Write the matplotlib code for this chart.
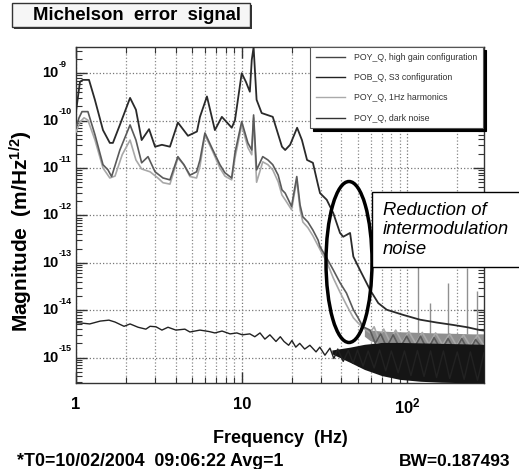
import numpy as np
import matplotlib
matplotlib.use("Agg")
import matplotlib.pyplot as plt
import matplotlib.transforms as mtransforms
from matplotlib.lines import Line2D
from matplotlib.patches import Ellipse, Rectangle
from matplotlib.ticker import FixedLocator, LogLocator, NullFormatter

plt.rcParams['font.family'] = ['Liberation Sans', 'DejaVu Sans']
plt.rcParams['mathtext.fontset'] = 'custom'
plt.rcParams['mathtext.rm'] = 'Liberation Sans:bold'
plt.rcParams['mathtext.bf'] = 'Liberation Sans:bold'
plt.rcParams['mathtext.it'] = 'Liberation Sans:bold'

# ---------------- data (log10 of magnitude in m/Hz^1/2) ----------------
# POB_Q S3 configuration (top dark curve)
freq_s3 = [1.00, 1.057, 1.10, 1.198, 1.30, 1.455, 1.60, 1.67, 1.84, 2.12, 2.30, 2.49,
           2.76, 3.00, 3.30, 3.69, 4.12, 4.74, 5.37, 5.60, 6.17, 6.89, 7.59, 8.71,
           9.11, 10.0, 10.6, 11.2, 11.5, 11.8, 12.3, 13.2, 15.4, 17.5, 18.3, 19.6,
           21.6, 23.1, 24.8, 26.9, 28.9, 29.7, 32.6, 35.7, 39.2, 41.0, 45.1, 47.2,
           51.7, 59.5, 66.7, 75.0, 94.5, 119, 150, 188, 230, 274, 290]
log_s3 = [-9.81, -9.18, -9.14, -9.14, -9.56, -10.20, -10.47, -10.47, -10.09, -9.52,
          -9.77, -10.41, -10.18, -10.55, -10.51, -10.55, -10.04, -10.32, -10.23, -9.92,
          -9.49, -10.20, -9.92, -10.15, -9.99, -9.00, -9.18, -9.39, -8.72, -8.45,
          -9.56, -9.84, -9.92, -10.55, -10.62, -10.51, -10.15, -10.41, -10.83, -10.89,
          -11.36, -11.53, -11.67, -11.95, -12.37, -12.45, -12.37, -12.87, -13.15, -13.57,
          -13.85, -13.99, -14.10, -14.20, -14.26, -14.31, -14.36, -14.42, -14.43]

# POY_Q high gain configuration
freq_hg = [1.00, 1.043, 1.087, 1.18, 1.302, 1.455, 1.56, 1.64, 1.84, 2.12, 2.30, 2.49,
           2.72, 3.00, 3.35, 3.69, 4.12, 4.48, 4.87, 5.34, 5.60, 6.00, 6.70, 7.39,
           7.92, 8.70, 9.11, 10.0, 10.9, 11.5, 11.8, 12.3, 13.4, 14.4, 15.4, 16.6,
           17.5, 18.3, 20.0, 21.5, 22.5, 23.4, 25.1, 26.9, 28.9, 29.7, 32.6, 35.7,
           39.2, 42.9, 47.2, 50.4, 53.9, 59.5, 64, 69, 75, 82, 90, 99, 109, 120,
           132, 145, 160, 176, 194, 213, 235, 258, 290]
log_hg = [-10.15, -9.94, -9.81, -9.81, -10.30, -10.93, -11.04, -11.18, -10.62, -10.09,
          -10.41, -10.89, -10.76, -11.08, -11.21, -11.25, -10.76, -10.93, -11.15, -11.08,
          -10.83, -10.26, -10.62, -10.93, -11.10, -11.21, -10.68, -10.02, -10.47, -10.62,
          -9.88, -11.04, -10.76, -10.83, -10.93, -11.15, -11.46, -11.53, -11.81, -11.18,
          -11.78, -12.03, -12.14, -12.31, -12.52, -12.66, -12.90, -13.15, -13.42, -13.64,
          -13.99, -14.16, -14.35, -14.42, -14.70, -14.50, -14.78, -14.52, -14.80, -14.55,
          -14.82, -14.55, -14.85, -14.58, -14.85, -14.60, -14.86, -14.60, -14.88, -14.62,
          -14.85]

# POY_Q 1Hz harmonics (light grey)
freq_h1 = [1.00, 1.057, 1.118, 1.18, 1.302, 1.455, 1.60, 1.72, 1.90, 2.12, 2.30, 2.49,
           2.80, 3.12, 3.35, 3.69, 4.12, 4.48, 4.87, 5.34, 5.60, 6.00, 6.70, 7.39,
           7.92, 8.70, 9.11, 10.0, 10.9, 11.5, 11.8, 12.3, 13.4, 14.4, 15.4, 16.6,
           17.5, 18.3, 20.0, 21.5, 22.5, 23.4, 25.1, 26.9, 28.9, 29.7, 32.6, 35.7,
           39.2, 42.9, 47.2, 50.4, 53.9, 59.5, 63, 67, 72, 78, 85, 93, 102, 112,
           123, 135, 148, 163, 180, 198, 218, 240, 265, 290]
log_h1 = [-10.24, -10.03, -9.94, -9.99, -10.41, -11.00, -11.21, -11.17, -10.72, -10.41,
          -10.83, -11.02, -11.08, -11.21, -11.31, -11.34, -10.79, -10.93, -11.18, -11.21,
          -10.96, -10.30, -10.66, -11.00, -11.17, -11.25, -10.79, -10.09, -10.57, -10.72,
          -9.94, -11.30, -10.87, -10.93, -11.04, -11.29, -11.57, -11.67, -11.88, -11.25,
          -11.88, -12.14, -12.26, -12.43, -12.64, -12.72, -12.98, -13.32, -13.62, -13.89,
          -14.16, -14.27, -14.37, -14.48, -14.35, -14.60, -14.40, -14.65, -14.42, -14.68,
          -14.45, -14.70, -14.47, -14.72, -14.48, -14.73, -14.50, -14.75, -14.52, -14.76,
          -14.53, -14.75]

# POY_Q dark noise
freq_dn = [1.00, 1.21, 1.40, 1.58, 1.72, 1.95, 2.12, 2.37, 2.64, 2.80, 3.04, 3.30,
           3.59, 4.01, 4.54, 4.87, 5.60, 6.35, 6.89, 7.61, 8.51, 9.35, 10.1, 11.2,
           12.0, 12.9, 13.8, 14.8, 16.1, 17.1, 18.0, 19.2, 20.1, 21.2, 22.4, 24.0,
           25.8, 28.1, 29.6, 31.8, 34.1, 36, 38, 41, 44, 47, 50, 54, 58, 63, 68, 74,
           80, 88, 96, 105, 115, 126, 138, 150, 165, 180, 200, 220, 240, 265, 290]
log_dn = [-14.26, -14.29, -14.23, -14.21, -14.25, -14.34, -14.29, -14.36, -14.40, -14.34,
          -14.35, -14.42, -14.36, -14.42, -14.40, -14.46, -14.42, -14.45, -14.48, -14.44,
          -14.50, -14.48, -14.52, -14.50, -14.56, -14.48, -14.61, -14.52, -14.66, -14.56,
          -14.66, -14.74, -14.64, -14.78, -14.70, -14.82, -14.74, -14.88, -14.78, -14.95,
          -14.80, -15.02, -14.82, -15.08, -14.85, -15.12, -14.84, -15.18, -14.86, -15.22,
          -14.84, -15.28, -14.86, -15.32, -14.86, -15.38, -14.85, -15.40, -14.86, -15.42,
          -14.86, -15.44, -14.88, -15.46, -14.88, -15.48, -14.90]

# dense-noise envelopes at high frequency
band_dn_freq = [35, 45, 55, 70, 90, 120, 160, 220, 290]
band_dn_hi = [-14.84, -14.78, -14.72, -14.68, -14.68, -14.69, -14.70, -14.71, -14.72]
band_dn_lo = [-14.92, -15.10, -15.25, -15.38, -15.46, -15.50, -15.52, -15.53, -15.53]
band_bc_freq = [55, 60, 70, 80, 100, 120, 150, 200, 250, 290]
band_bc_hi = [-14.38, -14.42, -14.44, -14.45, -14.46, -14.47, -14.48, -14.49, -14.50, -14.50]
band_bc_lo = [-14.55, -14.65, -14.70, -14.72, -14.74, -14.75, -14.76, -14.78, -14.80, -14.80]

# harmonic lines sticking out of the noise
spike_freq = [116, 137, 176, 229, 262]
spike_top = [-13.09, -13.84, -13.42, -13.11, -13.60]
spike_base = [-14.50, -14.50, -14.50, -14.50, -14.50]

legend_labels = ["POY_Q, high gain configuration", "POB_Q, S3 configuration",
                 "POY_Q, 1Hz harmonics", "POY_Q, dark noise"]

xtick_vals = [1, 10, 100]
xtick_labels = ["1", "10", r"$\mathbf{10^{2}}$"]
ytick_exps = [-15, -14, -13, -12, -11, -10, -9]

# ---------------- figure ----------------
W, H = 519, 469
fig = plt.figure(figsize=(W / 100, H / 100), dpi=100)
fig.patch.set_facecolor('white')

L, R, T, B = 76, 484, 46.7, 382.7
ax = fig.add_axes([L / W, 1 - B / H, (R - L) / W, (B - T) / H])
ax.set_xscale('log')
ax.set_yscale('log')
ax.set_xlim(1, 290)
ax.set_ylim(10 ** -15.53, 10 ** -8.44)

c_s3, c_hg, c_h1, c_dn = '#2a2a2a', '#5a5a5a', '#a8a8a8', '#222222'

P = lambda v: 10 ** np.array(v)

ax.fill_between(band_bc_freq, P(band_bc_lo), P(band_bc_hi), color='#8e8e8e', lw=0, zorder=2)
ax.plot(freq_h1, P(log_h1), color=c_h1, lw=1.2, zorder=3)
ax.plot(freq_hg, P(log_hg), color=c_hg, lw=1.2, zorder=4)
ax.vlines(spike_freq, P(spike_base), P(spike_top), color='#909090', lw=1.0, zorder=3)
ax.fill_between(band_dn_freq, P(band_dn_lo), P(band_dn_hi), color='#151515', lw=0, zorder=5)
ax.plot(freq_dn, P(log_dn), color=c_dn, lw=1.0, zorder=5)
ax.plot(freq_s3, P(log_s3), color=c_s3, lw=1.3, zorder=6)

# ticks
ax.xaxis.set_major_locator(FixedLocator(xtick_vals))
ax.set_xticklabels(xtick_labels)
ax.xaxis.set_minor_locator(LogLocator(base=10, subs=np.arange(2, 10)))
ax.xaxis.set_minor_formatter(NullFormatter())
ax.yaxis.set_major_locator(FixedLocator([10.0 ** e for e in ytick_exps]))
ax.set_yticklabels([''] * len(ytick_exps))
ax.yaxis.set_minor_locator(LogLocator(base=10, subs=np.arange(2, 10), numticks=20))
ax.yaxis.set_minor_formatter(NullFormatter())

ax.tick_params(axis='both', which='both', direction='in', top=True, right=True, color='#333')
ax.tick_params(axis='both', which='major', length=8, width=1)
ax.tick_params(axis='both', which='minor', length=4, width=0.8)
ax.tick_params(axis='x', which='major', labelsize=12, pad=10)
for lab in ax.get_xticklabels():
    lab.set_fontweight('bold')

# y tick labels: "10" with a small raised exponent
ytr = mtransforms.blended_transform_factory(fig.transFigure, ax.transData)
sup_tr = ytr + mtransforms.ScaledTranslation(0, 9 / 100, fig.dpi_scale_trans)
for e in ytick_exps:
    ax.text(58.5 / W, 10.0 ** e, '10', transform=ytr, fontsize=10.5, fontweight='bold',
            ha='right', va='center', clip_on=False)
    ax.text(58.5 / W, 10.0 ** e, str(e), transform=sup_tr, fontsize=6.5, fontweight='bold',
            ha='left', va='center', clip_on=False)

ax.grid(which='major', axis='both', ls=':', color='#777777', lw=0.9)
ax.grid(which='minor', axis='x', ls=':', color='#888888', lw=0.9)
for s in ax.spines.values():
    s.set_color('#333333')
    s.set_linewidth(1.0)

ax.set_xlabel('Frequency  (Hz)', fontsize=13, fontweight='bold', labelpad=10)
ax.set_ylabel(r'Magnitude  (m/Hz$^{1/2}$)', fontsize=15, fontweight='bold')
ax.yaxis.set_label_coords((35 - L) / (R - L), 0.45)

# legend
handles = [Line2D([], [], color=c, lw=1.0) for c in ['#444444', '#222222', '#aaaaaa', '#333333']]
leg = fig.legend(handles, legend_labels, loc='upper right',
                 bbox_to_anchor=(483 / W, 1 - 47 / H), bbox_transform=fig.transFigure,
                 fontsize=6.3, frameon=True, fancybox=False, shadow={'color': 'black', 'alpha': 1},
                 handlelength=3.4, handletextpad=1.0, labelspacing=1.3, borderpad=0.65,
                 borderaxespad=0)
leg.get_frame().set_edgecolor('#555555')
leg.get_frame().set_linewidth(0.8)
for t in leg.get_texts():
    t.set_color('#333333')

# title box
fig.patches.append(Rectangle((14 / W, 1 - 29 / H), 238 / W, 24 / H, transform=fig.transFigure,
                             fc='#333333', ec='none', zorder=1))
fig.patches.append(Rectangle((12 / W, 1 - 27 / H), 238 / W, 24 / H, transform=fig.transFigure,
                             fc='#f6f6f6', ec='#333333', lw=1.0, zorder=2))
fig.text(137 / W, 1 - 15 / H, 'Michelson  error  signal', fontsize=13.4, fontweight='bold',
         ha='center', va='center', zorder=3)

# footer
fig.text(17 / W, 1 - 461 / H, '*T0=10/02/2004  09:06:22 Avg=1', fontsize=12.8,
         fontweight='bold', ha='left', va='center')
fig.text(510 / W, 1 - 461 / H, 'BW=0.187493', fontsize=12.5, fontweight='bold',
         ha='right', va='center')

# annotation: ellipse and text box
fig.patches.append(Ellipse((349 / W, 1 - 262 / H), 46 / W, 161 / H, transform=fig.transFigure,
                           fill=False, ec='black', lw=2.5, zorder=10))
fig.patches.append(Rectangle((372 / W, 1 - 267 / H), 160 / W, 75 / H, transform=fig.transFigure,
                             fc='white', ec='black', lw=1.0, zorder=10))
fig.text(383 / W, 1 - 230 / H, 'Reduction of\nintermodulation\nnoise', fontsize=13.3,
         style='italic', ha='left', va='center', linespacing=1.2, zorder=11)

fig.savefig('out.png', dpi=100)
